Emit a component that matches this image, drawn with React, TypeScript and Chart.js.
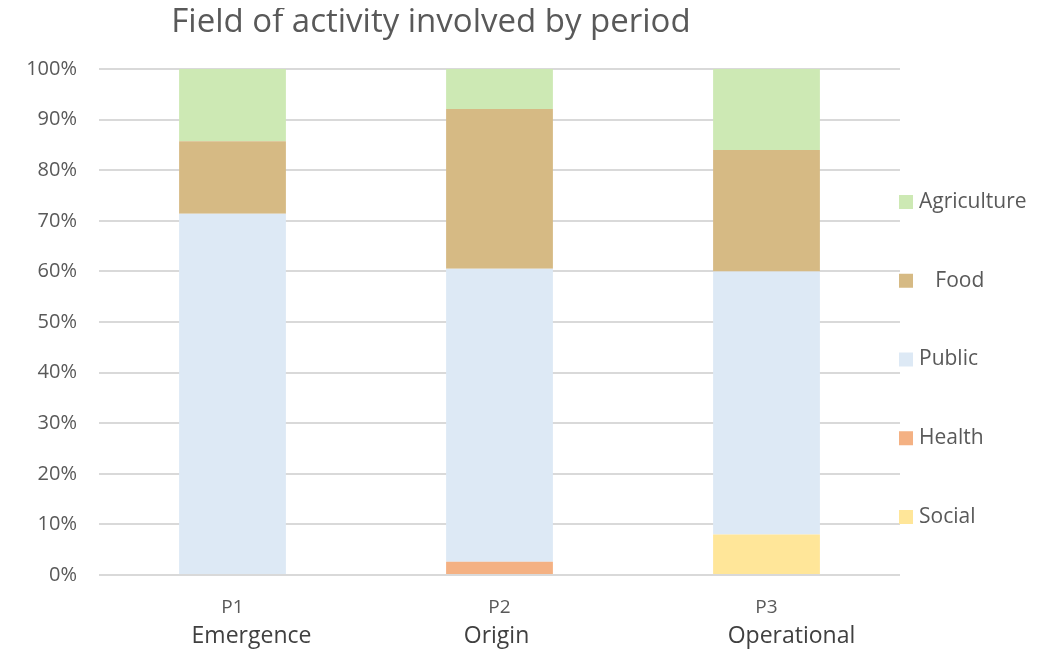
import React, { useEffect, useRef } from 'react';
import { Chart, registerables } from 'chart.js';

Chart.register(...registerables);

const TITLE = 'Field of activity involved by period';
const periods = ['P1', 'P2', 'P3'];
const periodNames = ['Emergence', 'Origin', 'Operational'];
const yTickValues = [0, 10, 20, 30, 40, 50, 60, 70, 80, 90, 100];

// stacked from bottom to top
const social = [0, 0, 8];
const health = [0, 2.6, 0];
const publicSector = [71.4, 57.9, 52];
const food = [14.3, 31.6, 24];
const agriculture = [14.3, 7.9, 16];

const seriesLabels = ['Social', 'Health', 'Public', '   Food', 'Agriculture'];
const seriesColors = ['#FFE699', '#F4B183', '#DDE9F5', '#D6BA84', '#CDE9B4'];

const FONT = '"Open Sans", sans-serif';

const W = 1035;
const H = 642;
const AREA = { left: 91, right: 892, top: 61, bottom: 567 };

const nameOffsets = [19, -3, 25];

const overlayPlugin = {
  id: 'overlay',
  afterDraw(chart: any) {
    const ctx = chart.ctx;
    ctx.save();
    // title
    ctx.fillStyle = '#595959';
    ctx.font = `33px ${FONT}`;
    ctx.textAlign = 'center';
    ctx.textBaseline = 'middle';
    ctx.fillText(TITLE, 423, 15);

    // period names below tick labels
    const xs = chart.scales.x;
    ctx.fillStyle = '#404040';
    ctx.font = `23px ${FONT}`;
    periodNames.forEach((n, i) => {
      ctx.fillText(n, xs.getPixelForValue(i) + nameOffsets[i], 628);
    });

    // legend (reverse order: top item is last dataset)
    const ds = chart.data.datasets;
    const startY = 194;
    const step = 78.75;
    ctx.textAlign = 'left';
    ctx.font = `21px ${FONT}`;
    for (let k = 0; k < ds.length; k++) {
      const d = ds[ds.length - 1 - k];
      const cy = startY + k * step;
      ctx.fillStyle = d.backgroundColor;
      ctx.fillRect(891, cy - 7, 14, 14);
      ctx.fillStyle = '#595959';
      ctx.fillText(d.label, 911, cy);
    }
    ctx.restore();
  },
};

export default function App() {
  const ref = useRef<HTMLCanvasElement>(null);
  useEffect(() => {
    const values = [social, health, publicSector, food, agriculture];
    const chart = new Chart(ref.current!, {
      type: 'bar',
      data: {
        labels: periods,
        datasets: values.map((v, i) => ({
          label: seriesLabels[i],
          data: v,
          backgroundColor: seriesColors[i],
          borderWidth: 0,
          categoryPercentage: 1,
          barPercentage: 0.4,
        })),
      },
      options: {
        animation: false,
        responsive: false,
        maintainAspectRatio: false,
        layout: { padding: { top: AREA.top, right: W - AREA.right, left: 0, bottom: 0 } },
        plugins: {
          legend: { display: false },
          title: { display: false },
          tooltip: { enabled: false },
        },
        scales: {
          x: {
            stacked: true,
            grid: { display: false, drawTicks: false },
            border: { display: false },
            ticks: { color: '#595959', font: { family: FONT, size: 19 }, padding: 21 },
            afterFit: (s: any) => { s.height = H - AREA.bottom; },
          },
          y: {
            stacked: true,
            min: 0,
            max: 100,
            afterBuildTicks: (s: any) => { s.ticks = yTickValues.map((v) => ({ value: v })); },
            grid: { color: '#D9D9D9', lineWidth: 2, drawTicks: false },
            border: { display: false },
            ticks: {
              color: '#595959',
              font: { family: FONT, size: 20 },
              padding: 22,
              callback: (v: any) => `${v}%`,
            },
            afterFit: (s: any) => { s.width = AREA.left; },
          },
        },
      },
      plugins: [overlayPlugin],
    });
    return () => chart.destroy();
  }, []);
  return (
    <div style={{ width: W, height: H }}>
      <canvas ref={ref} width={W} height={H} style={{ display: 'block', width: W, height: H }} />
    </div>
  );
}
